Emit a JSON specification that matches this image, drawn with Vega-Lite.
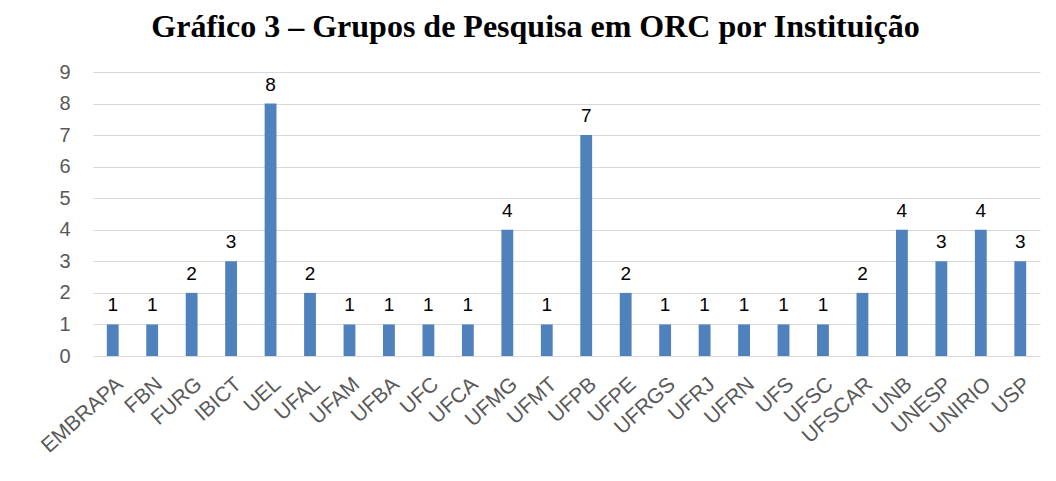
{
  "$schema": "https://vega.github.io/schema/vega-lite/v6.json",
  "width": 947,
  "height": 284,
  "autosize": {"type": "none"},
  "padding": {"left": 93, "top": 72, "right": 16, "bottom": 125},
  "background": "white",
  "config": {"view": {"stroke": null}},
  "title": {
    "text": "Gráfico 3 – Grupos de Pesquisa em ORC por Instituição",
    "font": "Liberation Serif",
    "fontSize": 32,
    "fontWeight": "bold",
    "color": "black",
    "anchor": "middle",
    "dx": -31,
    "offset": 18
  },
  "data": {
    "values": [
      {"inst": "EMBRAPA", "n": 1},
      {"inst": "FBN", "n": 1},
      {"inst": "FURG", "n": 2},
      {"inst": "IBICT", "n": 3},
      {"inst": "UEL", "n": 8},
      {"inst": "UFAL", "n": 2},
      {"inst": "UFAM", "n": 1},
      {"inst": "UFBA", "n": 1},
      {"inst": "UFC", "n": 1},
      {"inst": "UFCA", "n": 1},
      {"inst": "UFMG", "n": 4},
      {"inst": "UFMT", "n": 1},
      {"inst": "UFPB", "n": 7},
      {"inst": "UFPE", "n": 2},
      {"inst": "UFRGS", "n": 1},
      {"inst": "UFRJ", "n": 1},
      {"inst": "UFRN", "n": 1},
      {"inst": "UFS", "n": 1},
      {"inst": "UFSC", "n": 1},
      {"inst": "UFSCAR", "n": 2},
      {"inst": "UNB", "n": 4},
      {"inst": "UNESP", "n": 3},
      {"inst": "UNIRIO", "n": 4},
      {"inst": "USP", "n": 3}
    ]
  },
  "encoding": {
    "x": {
      "field": "inst",
      "type": "nominal",
      "sort": null,
      "scale": {"paddingInner": 0.7, "paddingOuter": 0.35},
      "axis": {
        "title": null,
        "labelAngle": -42,
        "labelFont": "Liberation Sans",
        "labelFontSize": 21,
        "labelColor": "#595959",
        "domain": false,
        "ticks": false,
        "labelPadding": 17
      }
    },
    "y": {
      "field": "n",
      "type": "quantitative",
      "scale": {"domain": [0, 9]},
      "axis": {
        "title": null,
        "values": [0, 1, 2, 3, 4, 5, 6, 7, 8, 9],
        "labelFont": "Liberation Sans",
        "labelFontSize": 20,
        "labelColor": "#595959",
        "domain": false,
        "ticks": false,
        "labelPadding": 23,
        "gridColor": "#D9D9D9",
        "gridWidth": 1
      }
    }
  },
  "layer": [
    {"mark": {"type": "bar", "color": "#4F81BD"}},
    {
      "mark": {
        "type": "text",
        "baseline": "bottom",
        "dy": -9,
        "font": "Liberation Sans",
        "fontSize": 19,
        "color": "black"
      },
      "encoding": {"text": {"field": "n", "type": "quantitative"}}
    }
  ]
}
